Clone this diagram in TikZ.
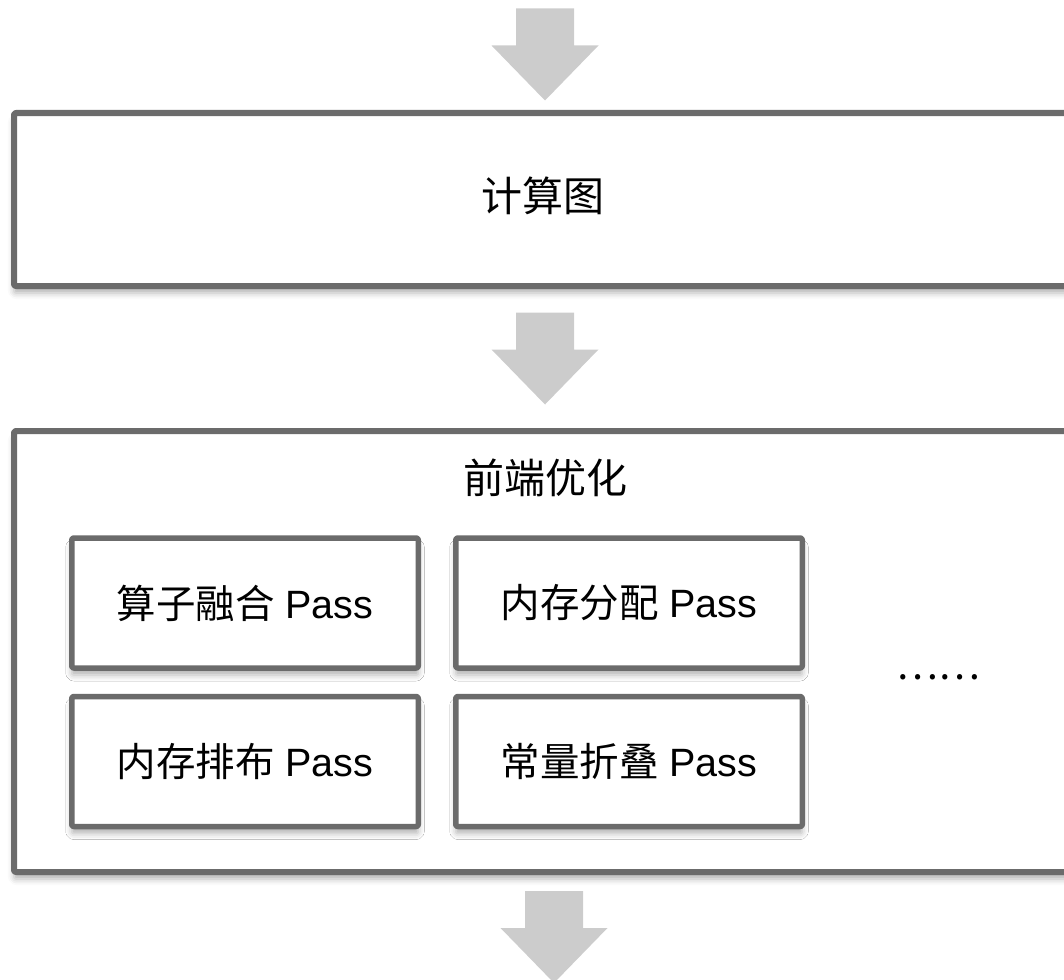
\documentclass[tikz,border=0pt]{standalone}
\usepackage{fontspec}
\setmainfont{Liberation Sans}
\newfontfamily\cjk{Noto Sans CJK SC}
\usetikzlibrary{calc}
\usetikzlibrary{shadows.blur}

\definecolor{boxgray}{HTML}{6B6B6B}
\definecolor{arrowgray}{HTML}{CCCCCC}

\begin{document}
\begin{tikzpicture}[line cap=round,line join=round,x=1pt,y=-1pt,
  bigbox/.style={draw=boxgray,line width=6pt,rounded corners=2pt,fill=white,
    blur shadow={shadow xshift=0pt,shadow yshift=-7pt,shadow blur radius=6pt,shadow opacity=30},
    minimum width=1062pt,inner sep=0pt},
  passbox/.style={draw=boxgray,line width=5.5pt,rounded corners=2pt,fill=white,
    blur shadow={shadow xshift=0pt,shadow yshift=-7pt,shadow blur radius=6pt,shadow opacity=30},
    minimum width=346.5pt,minimum height=130pt,inner sep=0pt},
  lbl/.style={font=\fontsize{39.5}{47}\selectfont,inner sep=0pt},
  fatarrow/.pic={\fill[arrowgray] (-29,-46) -- (29,-46) -- (29,-9) -- (53.5,-9)
    -- (0,46) -- (-53.5,-9) -- (-29,-9) -- cycle;}]
\useasboundingbox (0,0) rectangle (1064,979);
\clip (0,0) rectangle (1064,979);
% boxes
\node[bigbox,minimum height=173pt] (graph) at (545,199.5) {};
\node[lbl,font=\fontsize{41}{49}\selectfont] (graphtxt) at (543,196) {\cjk 计算图};
\node[bigbox,minimum height=441pt] (front) at (545,651.5) {};
\node[lbl,font=\fontsize{41}{49}\selectfont] (fronttxt) at (545,478) {\cjk 前端优化};
\node[passbox] (fuse) at (245,603) {};
\node[passbox] (alloc) at (629,603) {};
\node[passbox] (layout) at (245,761.5) {};
\node[passbox] (fold) at (629,761.5) {};
\node[lbl] at (fuse) {{\cjk 算子融合} Pass};
\node[lbl] at (alloc) {{\cjk 内存分配} Pass};
\node[lbl] at (layout) {{\cjk 内存排布} Pass};
\node[lbl] at (fold) {{\cjk 常量折叠} Pass};
\node[lbl] (more) at (938,677) {\cjk ……};
% arrows
\pic at ($(graph.north)+(0,-55.5)$) {fatarrow};
\pic at ($(graph.south)!0.5!(front.north)$) {fatarrow};
\pic at ($(front.south)+(9,62)$) {fatarrow};
\end{tikzpicture}
\end{document}
